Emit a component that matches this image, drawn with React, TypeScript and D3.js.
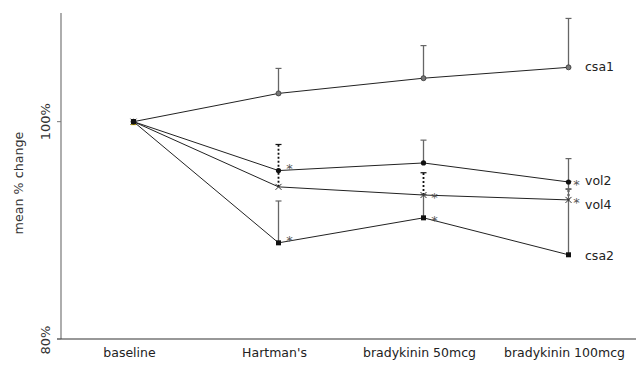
import * as d3 from 'd3';

const categories = ['baseline', "Hartman's", 'bradykinin 50mcg', 'bradykinin 100mcg'];

// mean % change per series
const csa1 = [100, 102.6, 104.0, 105.0];
const vol2 = [100, 95.5, 96.2, 94.45];
const vol4 = [100, 94.0, 93.25, 92.8];
const csa2 = [100, 88.85, 91.15, 87.75];

// upper end of the error bars (null = none drawn)
const csa1Err = [null, 104.9, 107.0, 109.5];
const vol2Err = [null, null, 98.3, 96.6];
const vol4Err = [null, 97.9, 95.3, 93.8];
const csa2Err = [null, 92.7, 93.3, 94.5];

// significance stars
const vol2Sig = [false, true, false, true];
const vol4Sig = [false, false, true, true];
const csa2Sig = [false, true, true, false];
const csa1Sig = [false, false, false, false];

const yTicks = [80, 100];
const yDomain = [80, 110];

type Series = {
  name: string;
  values: number[];
  err: (number | null)[];
  sig: boolean[];
  marker: 'circle' | 'dot' | 'cross' | 'square';
  dotted: boolean;
};

const series: Series[] = [
  { name: 'csa1', values: csa1, err: csa1Err, sig: csa1Sig, marker: 'circle', dotted: false },
  { name: 'vol2', values: vol2, err: vol2Err, sig: vol2Sig, marker: 'dot', dotted: false },
  { name: 'vol4', values: vol4, err: vol4Err, sig: vol4Sig, marker: 'cross', dotted: true },
  { name: 'csa2', values: csa2, err: csa2Err, sig: csa2Sig, marker: 'square', dotted: false },
];

const width = 636;
const height = 374;
const margin = { top: 13, left: 61, bottom: 35 };
const font = '"DejaVu Sans", Verdana, sans-serif';

export default function App() {
  const x = d3
    .scaleBand<string>()
    .domain(categories)
    .range([margin.left, margin.left + 580])
    .padding(0);
  const cx = (c: string) => (x(c) as number) + x.bandwidth() / 2;

  const y = d3
    .scaleLinear()
    .domain(yDomain)
    .range([height - margin.bottom, margin.top]);

  const line = d3
    .line<number>()
    .x((_, i) => cx(categories[i]))
    .y((d) => y(d));

  const labelDy: Record<string, number> = { csa1: 0, vol2: 0, vol4: 6, csa2: 2 };
  const last = categories.length - 1;

  const marker = (s: Series, px: number, py: number, key: string) => {
    if (s.marker === 'circle')
      return <circle key={key} cx={px} cy={py} r={2.5} fill="#777" stroke="#333" strokeWidth={0.8} />;
    if (s.marker === 'dot') return <circle key={key} cx={px} cy={py} r={2.6} fill="#111" />;
    if (s.marker === 'cross')
      return (
        <path
          key={key}
          d={`M${px - 3},${py - 3}L${px + 3},${py + 3}M${px - 3},${py + 3}L${px + 3},${py - 3}`}
          stroke="#333"
          strokeWidth={1}
        />
      );
    return <rect key={key} x={px - 2.5} y={py - 2.5} width={5} height={5} fill="#111" />;
  };

  return (
    <svg
      width={width}
      height={height}
      style={{ position: 'absolute', left: 0, top: 0, background: '#fff' }}
      fontFamily={font}
    >
      {/* axes */}
      <line x1={margin.left} x2={margin.left} y1={y(yDomain[1])} y2={y(yDomain[0])} stroke="#777" strokeWidth={1.2} />
      <line x1={margin.left - 4} x2={width} y1={y(yDomain[0])} y2={y(yDomain[0])} stroke="#333" strokeWidth={1.2} />
      {yTicks.map((t) => (
        <g key={t}>
          <line x1={margin.left - 4} x2={margin.left} y1={y(t)} y2={y(t)} stroke="#777" />
          <text
            transform={`translate(50,${y(t) + (t === yDomain[0] ? 1 : 0)}) rotate(-90)`}
            textAnchor="middle"
            fontSize={13}
            fill="#333"
          >
            {t}%
          </text>
        </g>
      ))}
      <text transform="translate(23,183) rotate(-90)" textAnchor="middle" fontSize={12.7} fill="#333">
        mean % change
      </text>
      {categories.map((c) => (
        <text key={c} x={cx(c) - 4} y={357} textAnchor="middle" fontSize={12.5} fill="#222">
          {c}
        </text>
      ))}

      {/* error bars */}
      {series.map((s) =>
        s.err.map((e, i) =>
          e == null ? null : (
            <g key={`${s.name}-e${i}`} stroke={s.dotted ? '#111' : '#666'}>
              <line
                x1={cx(categories[i])}
                x2={cx(categories[i])}
                y1={y(s.values[i])}
                y2={y(e)}
                strokeWidth={s.dotted ? 1.8 : 1.3}
                strokeDasharray={s.dotted ? '2,2' : undefined}
              />
              <line
                x1={cx(categories[i]) - 3}
                x2={cx(categories[i]) + 3}
                y1={y(e)}
                y2={y(e)}
                strokeWidth={1.2}
              />
            </g>
          )
        )
      )}

      {/* lines */}
      {series.map((s) => (
        <path key={s.name} d={line(s.values) ?? ''} fill="none" stroke="#222" strokeWidth={1} />
      ))}

      {/* markers */}
      <rect
        x={cx(categories[0]) - 2.5}
        y={y(100) - 1.5}
        width={5}
        height={5}
        fill="#e8c400"
      />
      {series.map((s) => s.values.map((v, i) => marker(s, cx(categories[i]), y(v), `${s.name}-m${i}`)))}

      {/* significance stars */}
      {series.map((s) =>
        s.sig.map((f, i) =>
          f ? (
            <text
              key={`${s.name}-s${i}`}
              x={cx(categories[i]) + (i === last ? 8 : 11)}
              y={y(s.values[i]) + (i === last ? 7 : i === 1 ? 2 : 7)}
              textAnchor="middle"
              fontSize={13}
              fill="#555"
            >
              *
            </text>
          ) : null
        )
      )}

      {/* series labels */}
      {series.map((s) => (
        <text
          key={`${s.name}-l`}
          x={585}
          y={y(s.values[last]) + labelDy[s.name]}
          dominantBaseline="middle"
          fontSize={12.5}
          fill="#222"
        >
          {s.name}
        </text>
      ))}
    </svg>
  );
}
